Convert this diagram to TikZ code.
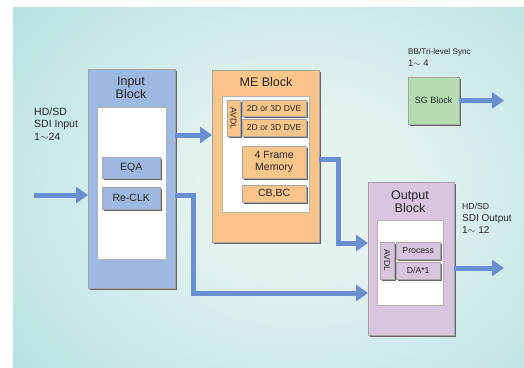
\documentclass[tikz,border=0pt]{standalone}
\usepackage{fontspec}
\setmainfont{Liberation Sans}
\usetikzlibrary{arrows.meta,shadows}

\definecolor{bgin}{RGB}{228,242,241}
\definecolor{bgout}{RGB}{146,212,214}
\definecolor{inblue}{RGB}{157,185,225}
\definecolor{meorange}{RGB}{249,197,139}
\definecolor{sggreen}{RGB}{181,221,178}
\definecolor{outlilac}{RGB}{217,196,224}
\definecolor{flowblue}{RGB}{106,143,208}
\pgfdeclareradialshading{bgglow}{\pgfpoint{0bp}{0bp}}{color(0bp)=(bgin); color(8bp)=(bgin); color(46bp)=(bgout); color(75bp)=(bgout)}

\begin{document}
\begin{tikzpicture}[x={(1pt,0)}, y={(0,-1pt)}]
\tikzstyle{every node} = [inner sep=0pt, text=black!85]
\tikzstyle{blk} = [anchor=north west, draw=black!35, line width=0.4pt, drop shadow={shadow xshift=1.3pt, shadow yshift=-1.3pt, fill=black!60, opacity=1}]
\tikzstyle{panel} = [anchor=north west, fill=white, draw=black!30, line width=0.4pt, drop shadow={shadow xshift=0.7pt, shadow yshift=-0.7pt, fill=black!30, opacity=1}]
\tikzstyle{flow} = [line width=5pt, draw=flowblue, -{Triangle[width=16pt, length=12pt]}]
\tikzstyle{title} = [font=\fontsize{12.5}{13}\selectfont, align=center]
\tikzstyle{txt} = [font=\fontsize{10.5}{11.5}\selectfont, align=center]
\tikzstyle{tiny} = [font=\fontsize{8.6}{9}\selectfont]

\useasboundingbox (0,0) rectangle (524,367);
\begin{scope}
\clip (13,7) rectangle (524,367);
\shade[shading=bgglow] (-20,-60) rectangle (620,440);
\end{scope}

\node[blk, fill=inblue, minimum width=87pt, minimum height=219pt] (1) at (88,69) {};
\node[title] (2) at (131,87.5) {Input\\Block};
\node[panel, minimum width=69pt, minimum height=152pt] (3) at (97,107) {};
\node[blk, fill=inblue, txt, minimum width=58pt, minimum height=21pt] (4) at (102,157) {EQA};
\node[blk, fill=inblue, txt, minimum width=58pt, minimum height=22pt] (5) at (102,187) {Re-CLK};

\node[blk, fill=meorange, minimum width=107pt, minimum height=172pt] (6) at (212,70) {};
\node[title] (7) at (266,82) {ME Block};
\node[panel, minimum width=87pt, minimum height=116pt] (8) at (222,96) {};
\node[blk, fill=meorange, minimum width=13pt, minimum height=36pt] (9) at (227,100) {};
\node[tiny, rotate=-90] (10) at (9) {AVDL};
\node[blk, fill=meorange, tiny, minimum width=64pt, minimum height=16pt] (11) at (242,100) {2D or 3D DVE};
\node[blk, fill=meorange, tiny, minimum width=64pt, minimum height=17pt] (12) at (242,119) {2D or 3D DVE};
\node[blk, fill=meorange, txt, minimum width=64pt, minimum height=32pt] (13) at (242,146) {4 Frame\\Memory};
\node[blk, fill=meorange, txt, minimum width=64pt, minimum height=17pt] (14) at (242,185) {CB,BC};

\node[blk, fill=sggreen, font=\fontsize{9}{10}\selectfont, minimum width=51pt, minimum height=47pt] (15) at (408,77) {SG Block};
\node[anchor=west, align=left] (16) at (408,57.5) {\fontsize{8.2}{11}\selectfont BB/Tri-level Sync\\\fontsize{9.5}{11}\selectfont 1$\sim$ 4};

\node[blk, fill=outlilac, minimum width=86pt, minimum height=153pt] (17) at (368,182) {};
\node[title] (18) at (410,202) {Output\\Block};
\node[panel, minimum width=66pt, minimum height=85pt] (19) at (377,220) {};
\node[blk, fill=outlilac, minimum width=14pt, minimum height=37pt] (20) at (380,242) {};
\node[tiny, rotate=-90] (21) at (20) {AVDL};
\node[blk, fill=outlilac, font=\fontsize{8.7}{9}\selectfont, minimum width=44pt, minimum height=17pt] (22) at (396,242) {Process};
\node[blk, fill=outlilac, font=\fontsize{8.7}{9}\selectfont, minimum width=44pt, minimum height=17pt] (23) at (396,262) {D/A*1};

\node[anchor=west, align=left, font=\fontsize{10.5}{12.5}\selectfont] (24) at (34,124) {HD/SD\\SDI Input\\1$\sim$24};
\node[anchor=west, align=left] (25) at (462,218) {\fontsize{8.7}{12}\selectfont HD/SD\\SDI Output\\\fontsize{10}{12}\selectfont 1$\sim$ 12};

\coordinate (26) at (34,195);
\coordinate (27) at (338,243);
\coordinate (28) at (193,293);
\coordinate (29) at (504,100.5);
\coordinate (30) at (504,268);

\draw[flow] (26) -- (26 -| 1.west);
\draw[flow] (1.east |- 0,135) -- (6.west |- 0,135);
\draw[flow] (6.east |- 0,159) -| (27) -- (27 -| 17.west);
\draw[flow] (1.east |- 0,195) -| (28) -- (28 -| 17.west);
\draw[flow] (15.east) -- (29);
\draw[flow] (17.east |- 0,268) -- (30);
\end{tikzpicture}
\end{document}
